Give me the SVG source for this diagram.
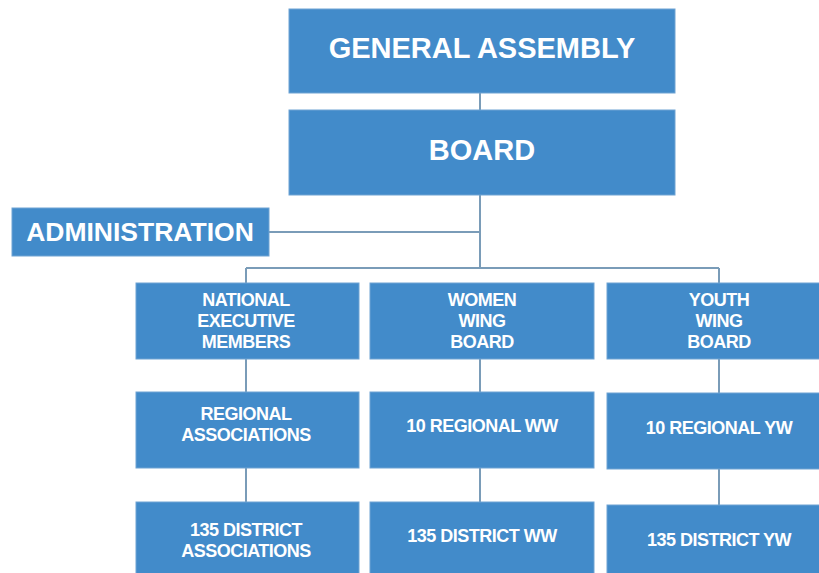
<svg xmlns="http://www.w3.org/2000/svg" width="819" height="573" viewBox="0 0 819 573">
<style>
.box{fill:#428bca;stroke:#6fa3d3;stroke-width:1}
.t{font-family:"Liberation Sans",Arial,sans-serif;font-weight:bold;fill:#fff;text-anchor:middle}
.big{font-size:29px}
.adm{font-size:26.5px}
.sm{font-size:18px;letter-spacing:-0.5px}
.ln{stroke:#7a9cb8;stroke-width:2;fill:none}
</style>
<rect width="819" height="573" fill="#fff"/>
<g id="connectors">
<path class="ln" d="M480 93V110M480 195V268M269 232H480M246 268H719M246 268V283M719 268V283"/>
<path class="ln" d="M246 359V392M246 468V502M480 359V392M480 468V502M719 359V393M719 469V505"/>
</g>
<g id="general-assembly"><rect class="box" x="289" y="9" width="386" height="84"/><text class="t big" x="482" y="58">GENERAL ASSEMBLY</text></g>
<g id="board"><rect class="box" x="289" y="110" width="386" height="85"/><text class="t big" x="482" y="160">BOARD</text></g>
<g id="administration"><rect class="box" x="12" y="208" width="257" height="48"/><text class="t adm" x="140" y="241">ADMINISTRATION</text></g>
<g id="national"><rect class="box" x="136" y="283" width="223" height="76"/><text class="t sm" x="246" y="306">NATIONAL</text><text class="t sm" x="246" y="327">EXECUTIVE</text><text class="t sm" x="246" y="348">MEMBERS</text></g>
<g id="women"><rect class="box" x="370" y="283" width="224" height="76"/><text class="t sm" x="482" y="306">WOMEN</text><text class="t sm" x="482" y="327">WING</text><text class="t sm" x="482" y="348">BOARD</text></g>
<g id="youth"><rect class="box" x="607" y="283" width="214" height="76"/><text class="t sm" x="719" y="306">YOUTH</text><text class="t sm" x="719" y="327">WING</text><text class="t sm" x="719" y="348">BOARD</text></g>
<g id="regional"><rect class="box" x="136" y="392" width="223" height="76"/><text class="t sm" x="246" y="420">REGIONAL</text><text class="t sm" x="246" y="441">ASSOCIATIONS</text></g>
<g id="regional-ww"><rect class="box" x="370" y="392" width="224" height="76"/><text class="t sm" x="482" y="432">10 REGIONAL WW</text></g>
<g id="regional-yw"><rect class="box" x="607" y="393" width="214" height="76"/><text class="t sm" x="719" y="434">10 REGIONAL YW</text></g>
<g id="district"><rect class="box" x="136" y="502" width="223" height="75"/><text class="t sm" x="246" y="536">135 DISTRICT</text><text class="t sm" x="246" y="557">ASSOCIATIONS</text></g>
<g id="district-ww"><rect class="box" x="370" y="502" width="224" height="75"/><text class="t sm" x="482" y="542">135 DISTRICT WW</text></g>
<g id="district-yw"><rect class="box" x="607" y="505" width="214" height="72"/><text class="t sm" x="719" y="546">135 DISTRICT YW</text></g>
</svg>
